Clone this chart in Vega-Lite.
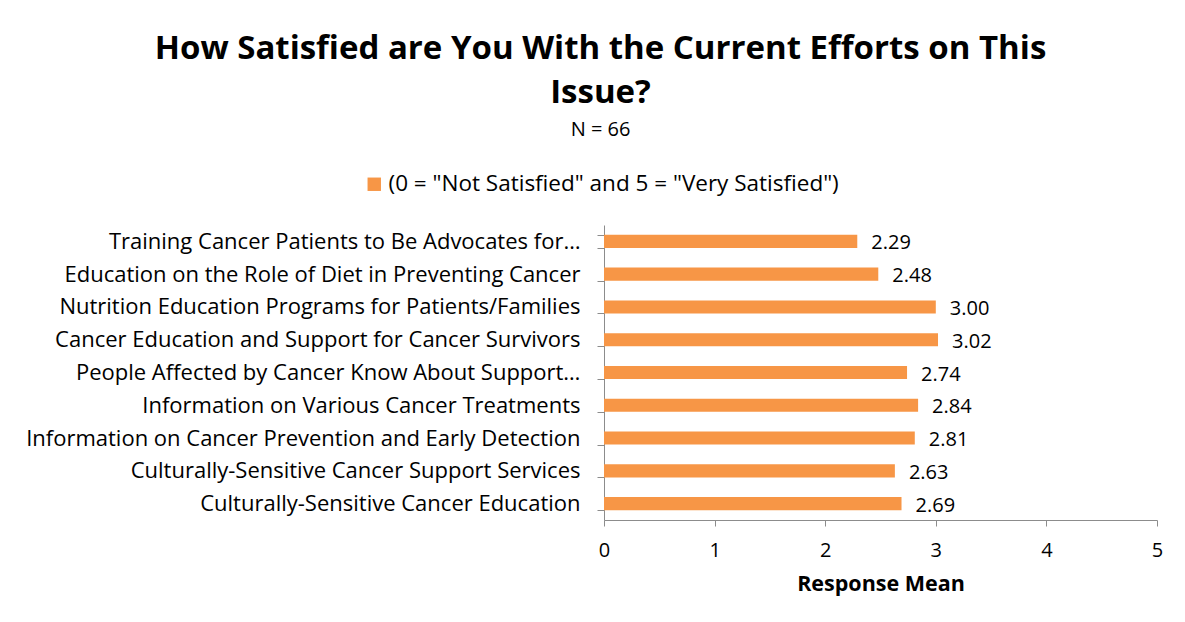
{
  "$schema": "https://vega.github.io/schema/vega-lite/v6.json",
  "width": 553,
  "height": 295,
  "autosize": {"type": "none"},
  "padding": {"left": 604, "top": 225, "right": 28, "bottom": 102},
  "background": "white",
  "title": {
    "text": ["How Satisfied are You With the Current Efforts on This", "Issue?"],
    "subtitle": "N = 66",
    "font": "Open Sans",
    "fontSize": 33,
    "fontWeight": "bold",
    "color": "#000000",
    "lineHeight": 44,
    "subtitleFont": "Open Sans",
    "subtitleFontSize": 20,
    "subtitleColor": "#000000",
    "subtitlePadding": 10,
    "anchor": "middle",
    "frame": "group",
    "dx": -280,
    "offset": 33
  },
  "data": {
    "values": [
      {"item": "Training Cancer Patients to Be Advocates for…", "mean": 2.29},
      {"item": "Education on the Role of Diet in Preventing Cancer", "mean": 2.48},
      {"item": "Nutrition Education Programs for Patients/Families", "mean": 3.00},
      {"item": "Cancer Education and Support for Cancer Survivors", "mean": 3.02},
      {"item": "People Affected by Cancer Know About Support…", "mean": 2.74},
      {"item": "Information on Various Cancer Treatments", "mean": 2.84},
      {"item": "Information on Cancer Prevention and Early Detection", "mean": 2.81},
      {"item": "Culturally-Sensitive Cancer Support Services", "mean": 2.63},
      {"item": "Culturally-Sensitive Cancer Education", "mean": 2.69}
    ]
  },
  "encoding": {
    "y": {
      "field": "item",
      "type": "nominal",
      "sort": null,
      "scale": {"paddingInner": 0.6, "paddingOuter": 0.3},
      "axis": {
        "title": null,
        "tickBand": "extent",
        "tickSize": 7,
        "tickColor": "#8c8c8c",
        "domainColor": "#8c8c8c",
        "labelFont": "Open Sans",
        "labelFontSize": 22,
        "labelColor": "#000000",
        "labelPadding": 17,
        "labelLimit": 700,
        "grid": false
      }
    }
  },
  "layer": [
    {
      "mark": {"type": "bar", "color": "#F79646"},
      "encoding": {
        "x": {
          "field": "mean",
          "type": "quantitative",
          "scale": {"domain": [0, 5], "nice": false},
          "axis": {
            "title": "Response Mean",
            "titleFont": "Open Sans",
            "titleFontSize": 21.5,
            "titleFontWeight": "bold",
            "titleColor": "#000000",
            "titlePadding": 13,
            "values": [0, 1, 2, 3, 4, 5],
            "format": "d",
            "grid": false,
            "labelFlush": false,
            "tickSize": 6,
            "tickColor": "#8c8c8c",
            "domainColor": "#8c8c8c",
            "labelFont": "Open Sans",
            "labelFontSize": 20,
            "labelColor": "#000000",
            "labelPadding": 14
          }
        },
        "color": {
          "datum": "(0 = \"Not Satisfied\" and 5 = \"Very Satisfied\")",
          "type": "nominal",
          "scale": {"range": ["#F79646"]},
          "legend": {
            "title": null,
            "orient": "none",
            "legendX": -241,
            "legendY": -52,
            "symbolType": "square",
            "symbolSize": 180,
            "symbolStrokeWidth": 0,
            "labelFont": "Open Sans",
            "labelFontSize": 22.5,
            "labelColor": "#000000",
            "labelOffset": 3,
            "labelLimit": 700
          }
        }
      }
    },
    {
      "mark": {"type": "text", "align": "left", "baseline": "middle", "dx": 14, "dy": 2, "font": "Open Sans", "fontSize": 20, "color": "#000000"},
      "encoding": {
        "x": {"field": "mean", "type": "quantitative"},
        "text": {"field": "mean", "type": "quantitative", "format": ".2f"}
      }
    }
  ],
  "config": {"view": {"stroke": null}}
}
